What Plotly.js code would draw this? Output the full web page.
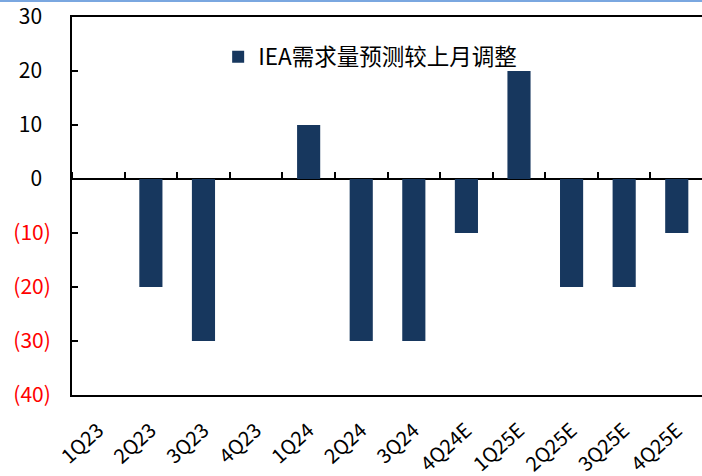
<!DOCTYPE html>
<html>
<head>
<meta charset="utf-8">
<script src="https://cdn.plot.ly/plotly-3.0.1.min.js"></script>
<style>
html,body{margin:0;padding:0;background:#fff;overflow:hidden;}
#topline{position:absolute;left:0;top:0;width:702px;height:2px;background:#7aa7e0;z-index:5;}
#chart{position:absolute;left:0;top:0;width:702px;height:476px;}
</style>
</head>
<body>
<div id="chart"></div>
<div id="topline"></div>
<script>
const categories = ['1Q23','2Q23','3Q23','4Q23','1Q24','2Q24','3Q24','4Q24E','1Q25E','2Q25E','3Q25E','4Q25E'];
const adjustment = [0, -20, -30, 0, 10, -30, -30, -10, 20, -20, -20, -10];
const seriesName = 'IEA需求量预测较上月调整';
const yTickVals = [30, 20, 10, 0, -10, -20, -30, -40];
const yTickText = yTickVals.map(v => v < 0
  ? '<span style="color:#ff0000">(' + Math.abs(v) + ')</span>'
  : String(v) + '\u2005\u2006');

const FONT = '"Noto Sans CJK SC", "Noto Sans", sans-serif';
const xr = [-0.5, 11.48];

const traces = [
  {
    type: 'bar', x: categories, y: adjustment, name: seriesName,
    marker: {color: '#17375e'}, width: 0.44, hoverinfo: 'skip'
  },
  {
    type: 'bar', x: categories, y: categories.map(() => null), xaxis: 'x2',
    showlegend: false, hoverinfo: 'skip', marker: {color: 'rgba(0,0,0,0)'}
  }
];

const layout = {
  width: 702, height: 476,
  margin: {l: 72, r: 0, t: 17, b: 81},
  paper_bgcolor: '#ffffff', plot_bgcolor: '#ffffff',
  font: {family: FONT, color: '#000000', size: 20},
  showlegend: true,
  legend: {
    x: 0.232, xanchor: 'left', y: 0.894, yanchor: 'middle',
    bgcolor: 'rgba(0,0,0,0)', font: {family: FONT, size: 22.5, color: '#000'}
  },
  xaxis: {
    type: 'category', categoryarray: categories, range: xr,
    showline: true, linecolor: '#000', linewidth: 2, mirror: true,
    ticks: '', showgrid: false, zeroline: false,
    tickangle: -42, ticklabelstandoff: 14,
    tickfont: {family: FONT, size: 20, color: '#000'}
  },
  xaxis2: {
    type: 'category', categoryarray: categories, range: xr,
    overlaying: 'x', anchor: 'free', position: 40/70, side: 'top',
    showline: false, ticks: 'outside', ticklen: 7, tickwidth: 2, tickcolor: '#000',
    tickson: 'boundaries', showticklabels: false, showgrid: false, zeroline: false
  },
  yaxis: {
    range: [-40, 30], tickvals: yTickVals, ticktext: yTickText,
    showline: true, linecolor: '#000', linewidth: 2, mirror: false,
    ticks: 'inside', ticklen: 6, tickwidth: 2, tickcolor: '#000',
    showgrid: false, zeroline: true, zerolinecolor: '#000', zerolinewidth: 2,
    ticklabelstandoff: 15,
    tickfont: {family: FONT, size: 21, color: '#000'}
  },
  bargap: 0.56
};

Plotly.newPlot('chart', traces, layout, {displayModeBar: false, staticPlot: true});
</script>
</body>
</html>
